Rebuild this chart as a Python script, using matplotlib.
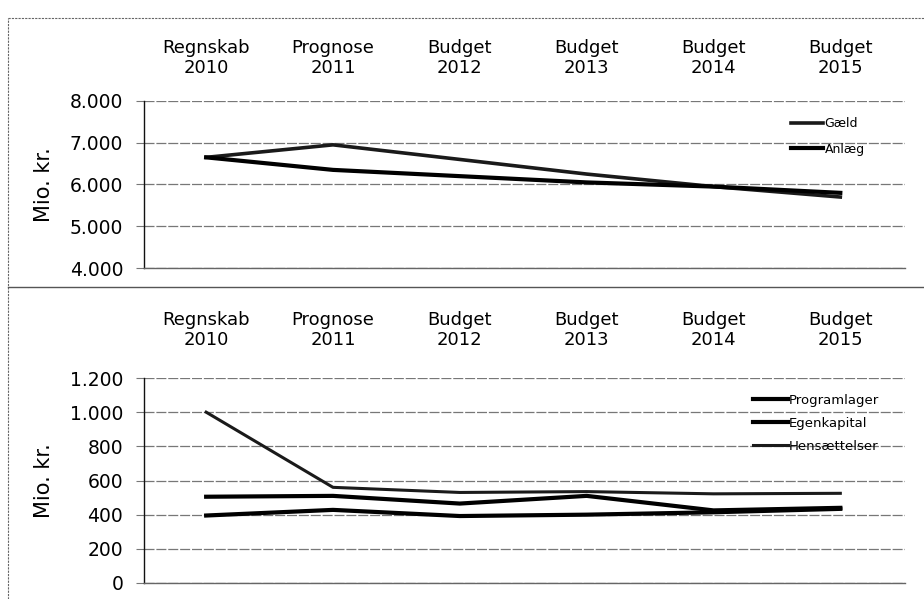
import matplotlib
matplotlib.use("Agg")
import matplotlib.pyplot as plt
from matplotlib.ticker import FuncFormatter

categories = ["Regnskab\n2010", "Prognose\n2011", "Budget\n2012", "Budget\n2013", "Budget\n2014", "Budget\n2015"]

# Top chart (Mio. kr.)
gaeld = [6650, 6950, 6600, 6250, 5950, 5700]
anlaeg = [6650, 6350, 6200, 6050, 5950, 5800]
top_ticks = [4000, 5000, 6000, 7000, 8000]

# Bottom chart (Mio. kr.)
programlager = [505, 510, 465, 510, 425, 440]
egenkapital = [395, 428, 392, 400, 414, 434]
hensaettelser = [1000, 560, 530, 535, 522, 525]
bottom_ticks = [0, 200, 400, 600, 800, 1000, 1200]

plt.rcParams['font.family'] = ['DejaVu Sans']

fig = plt.figure(figsize=(9.24, 5.99), dpi=100)
W, H = 924, 599

def axes_px(l, t, r, b):
    return fig.add_axes([l / W, 1 - b / H, (r - l) / W, (b - t) / H])

def fmt(v, p):
    return f"{int(v):,}".replace(",", ".")

def style(ax, ticks, ylim, cat_y):
    ax.set_xlim(-0.49, 5.51)
    ax.set_ylim(*ylim)
    ax.set_yticks(ticks)
    ax.yaxis.set_major_formatter(FuncFormatter(fmt))
    ax.set_xticks([])
    for s in ["top", "right"]:
        ax.spines[s].set_visible(False)
    ax.spines["left"].set_color("#111111")
    ax.spines["left"].set_linewidth(1.0)
    ax.spines["bottom"].set_color("#666666")
    ax.spines["bottom"].set_linewidth(1.0)
    ax.grid(axis="y", color="#777777", linewidth=0.9, linestyle=(0, (8, 1.5)))
    ax.tick_params(axis="y", length=6, color="#777777", labelsize=13.5, pad=9)
    ax.set_ylabel("Mio. kr.", fontsize=15, labelpad=8)
    for i, c in enumerate(categories):
        ax.text(i, cat_y, c, ha="center", va="center", fontsize=13,
                transform=ax.get_xaxis_transform(), linespacing=1.15)

x = list(range(len(categories)))

# Top chart
ax1 = axes_px(144, 101, 905, 268)
ax1.plot(x, gaeld, color="#1a1a1a", linewidth=2.6, label="Gæld", zorder=3)
ax1.plot(x, anlaeg, color="black", linewidth=3.0, label="Anlæg", zorder=3)
style(ax1, top_ticks, (4000, 8000), 1.26)
ax1.yaxis.set_label_coords(-0.118, 0.5)
ax1.legend(loc="upper left", bbox_to_anchor=(0.835, 0.97), frameon=False,
           fontsize=9, handlelength=2.6, handletextpad=0.1, labelspacing=1.0)

# Bottom chart
ax2 = axes_px(144, 378, 905, 583)
ax2.plot(x, programlager, color="black", linewidth=3.0, label="Programlager", zorder=3)
ax2.plot(x, egenkapital, color="black", linewidth=3.0, label="Egenkapital", zorder=3)
ax2.plot(x, hensaettelser, color="#1a1a1a", linewidth=2.2, label="Hensættelser", zorder=3)
style(ax2, bottom_ticks, (0, 1200), 1.235)
ax2.yaxis.set_label_coords(-0.118, 0.5)
ax2.legend(loc="upper left", bbox_to_anchor=(0.785, 0.98), frameon=False,
           fontsize=9.5, handlelength=2.6, handletextpad=0.1, labelspacing=0.75)

# Page frame / separator lines from the scanned page
fig.add_artist(plt.Line2D([8 / W, 1], [1 - 18 / H, 1 - 18 / H], color="#666666", lw=0.8, linestyle=(0, (2, 1))))
fig.add_artist(plt.Line2D([8 / W, 8 / W], [0, 1 - 18 / H], color="#666666", lw=0.8, linestyle=(0, (2, 1))))
fig.add_artist(plt.Line2D([8 / W, 1], [1 - 287 / H, 1 - 287 / H], color="#555555", lw=1.0))

fig.savefig("out.png", dpi=100)
